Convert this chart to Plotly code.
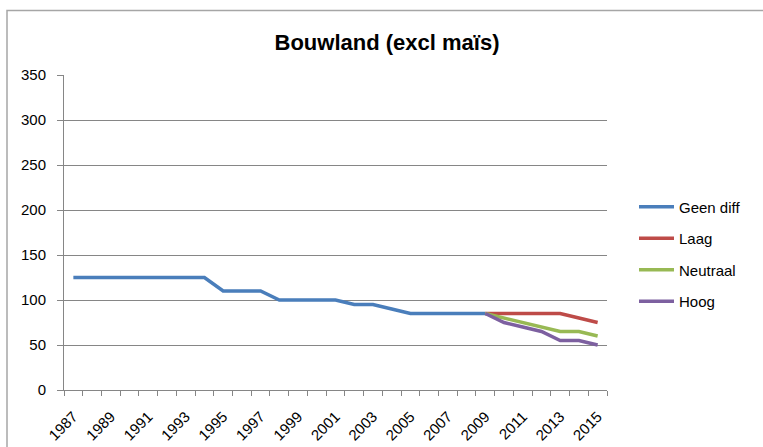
import plotly.graph_objects as go

years = list(range(1987, 2016))
geen_diff = [125, 125, 125, 125, 125, 125, 125, 125, 110, 110, 110, 100, 100, 100, 100,
             95, 95, 90, 85, 85, 85, 85, 85, None, None, None, None, None, None]
laag = [None] * 22 + [85, 85, 85, 85, 85, 80, 75]
neutraal = [None] * 22 + [85, 80, 75, 70, 65, 65, 60]
hoog = [None] * 22 + [85, 75, 70, 65, 55, 55, 50]

series = [("Geen diff", geen_diff, "#4A7EBB"),
          ("Laag", laag, "#BE4B48"),
          ("Neutraal", neutraal, "#98B954"),
          ("Hoog", hoog, "#7D60A0")]

fig = go.Figure()
for i, (name, vals, col) in enumerate(series):
    fig.add_trace(go.Scatter(x=years, y=vals, name=name, mode="lines",
                             line=dict(color=col, width=3.5), legendgroup=f"g{i}"))

L, R, T, B = 64, 156, 75, 57
W, H = 763, 447
pw, ph = W - L - R, H - T - B

fig.update_layout(
    width=W, height=H,
    margin=dict(l=L, r=R, t=T, b=B, autoexpand=False),
    paper_bgcolor="white", plot_bgcolor="white",
    font=dict(family="Liberation Sans, Arial, sans-serif", size=15, color="#000000"),
    title=dict(text="<b>Bouwland (excl maïs)</b>", x=(387 - L) / pw, xref="paper",
               xanchor="center", y=1 - 42 / H, yanchor="middle",
               font=dict(size=22, color="#000000")),
    legend=dict(x=1 + (634 - L - pw) / pw, y=(390 - 254) / ph, xanchor="left", yanchor="middle",
                font=dict(size=15), tracegroupgap=9, itemwidth=35,
                bgcolor="rgba(0,0,0,0)"),
    showlegend=True,
    xaxis=dict(range=[1986.5, 2015.5], tickvals=years[::2], ticktext=[str(y) for y in years[::2]],
               tickangle=-45, ticks="", showgrid=False, zeroline=False,
               showline=True, linecolor="#868686", linewidth=1, ticklabelstandoff=11,
               minor=dict(tick0=1986.5, dtick=1, ticks="outside", ticklen=5, tickcolor="#868686",
                          showgrid=False),
               tickfont=dict(size=15)),
    yaxis=dict(range=[0, 350], dtick=50, showgrid=True, gridcolor="#868686", gridwidth=1,
               zeroline=False, showline=True, linecolor="#868686", linewidth=1,
               ticks="outside", ticklen=6, tickcolor="#868686", tickfont=dict(size=15),
               ticklabelstandoff=8),
    shapes=[dict(type="rect", xref="paper", yref="paper",
                 x0=-(L - 7) / pw, x1=1 + (R + 5) / pw,
                 y0=-(B + 5) / ph, y1=1 + (T - 10.5) / ph,
                 line=dict(color="#A6A6A6", width=1.5), fillcolor="rgba(0,0,0,0)", layer="below")],
)

fig.write_html("out.html", config={"displayModeBar": False},
               post_script="document.body.style.margin='0';")
